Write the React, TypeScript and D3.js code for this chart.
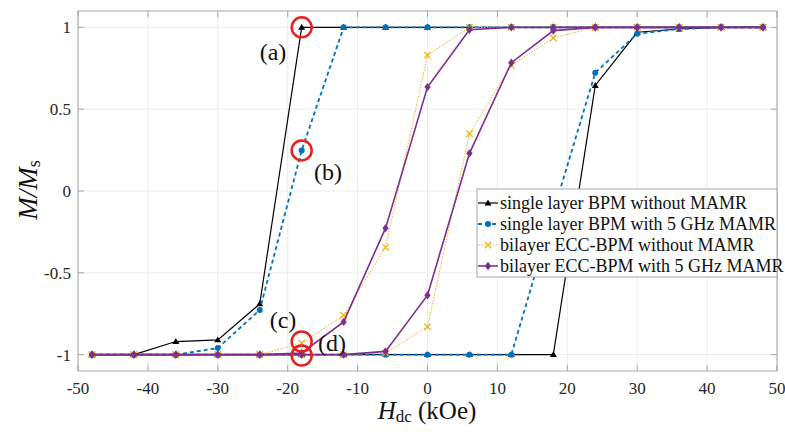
import React from "react";
import * as d3 from "d3";

const H = [-48, -42, -36, -30, -24, -18, -12, -6, 0, 6, 12, 18, 24, 30, 36, 42, 48];
const blackUp = [-1, -1, -0.92, -0.91, -0.69, 1, 1, 1, 1, 1, 1, 1, 1, 1, 1, 1, 1];
const blackDown = [-1, -1, -1, -1, -1, -1, -1, -1, -1, -1, -1, -1, 0.645, 0.97, 0.99, 1, 1];
const blueUp = [-1, -1, -1, -0.96, -0.727, 0.248, 1, 1, 1, 1, 1, 1, 1, 1, 1, 1, 1];
const blueDown = [-1, -1, -1, -1, -1, -1, -1, -1, -1, -1, -1, -0.13, 0.723, 0.961, 0.99, 1, 1];
const orangeUp = [-1, -1, -1, -1, -1, -0.93, -0.76, -0.344, 0.83, 1, 1, 1, 1, 1, 1, 1, 1];
const orangeDown = [-1, -1, -1, -1, -1, -1, -1, -0.99, -0.83, 0.35, 0.768, 0.935, 1, 1, 1, 1, 1];
const purpleUp = [-1, -1, -1, -1, -1, -0.99, -0.8, -0.227, 0.635, 0.985, 1, 1, 1, 1, 1, 1, 1];
const purpleDown = [-1, -1, -1, -1, -1, -1, -1, -0.98, -0.637, 0.23, 0.784, 0.98, 1, 1, 1, 1, 1];

const xTicks = [-50, -40, -30, -20, -10, 0, 10, 20, 30, 40, 50];
const yTicks = [-1, -0.5, 0, 0.5, 1];
const legendLabels = [
  "single layer BPM without MAMR",
  "single layer BPM with 5 GHz MAMR",
  "bilayer ECC-BPM without MAMR",
  "bilayer ECC-BPM with 5 GHz MAMR",
];
const annotations = [
  { label: "(a)", h: -18, m: 1, tx: 273, ty: 52 },
  { label: "(b)", h: -18, m: 0.248, tx: 328, ty: 172 },
  { label: "(c)", h: -18, m: -0.92, tx: 283, ty: 320 },
  { label: "(d)", h: -18, m: -1.005, tx: 332, ty: 343 },
];

const series = [
  { up: blackUp, down: blackDown, color: "#000000", width: 1.2, dash: "none", marker: "tri" },
  { up: blueUp, down: blueDown, color: "#0072BD", width: 1.8, dash: "4,3", marker: "circle" },
  { up: orangeUp, down: orangeDown, color: "#EDB120", width: 1, dash: "1.5,1.5", marker: "x" },
  { up: purpleUp, down: purpleDown, color: "#7E2F8E", width: 1.6, dash: "none", marker: "diamond" },
];

const FONT = "Liberation Serif, Times New Roman, serif";

function Marker({ type, x, y, color }: { type: string; x: number; y: number; color: string }) {
  if (type === "tri") {
    const s = 3.5;
    return <path d={`M${x},${y - s} L${x + s},${y + s * 0.7} L${x - s},${y + s * 0.7} Z`} fill={color} />;
  }
  if (type === "circle") return <circle cx={x} cy={y} r={3} fill={color} />;
  if (type === "x") {
    const s = 3.2;
    return (
      <path
        d={`M${x - s},${y - s} L${x + s},${y + s} M${x - s},${y + s} L${x + s},${y - s}`}
        stroke={color}
        strokeWidth={1.3}
        fill="none"
      />
    );
  }
  const s = 4.2;
  return <path d={`M${x},${y - s} L${x + s * 0.75},${y} L${x},${y + s} L${x - s * 0.75},${y} Z`} fill={color} />;
}

export default function App() {
  const W = 785;
  const Ht = 435;
  const x0 = 78, x1 = 777, y0 = 11, y1 = 371;
  const x = d3.scaleLinear().domain([-50, 50]).range([x0, x1]);
  const y = d3.scaleLinear().domain([-1.1, 1.1]).range([y1, y0]);
  const line = d3
    .line<number>()
    .x((_, i) => x(H[i]))
    .y((d) => y(d));

  const axisColor = "#a6a6a6";
  const gridColor = "#ececec";
  const ts = { fontFamily: FONT };

  return (
    <svg width={W} height={Ht} style={{ position: "absolute", left: 0, top: 0, background: "#fff", fontFamily: FONT }}>
      <rect x={0} y={0} width={W} height={Ht} fill="#fff" />
      {xTicks.map((t) => (
        <line key={"gx" + t} x1={x(t)} x2={x(t)} y1={y0} y2={y1} stroke={gridColor} strokeWidth={1} />
      ))}
      {yTicks.map((t) => (
        <line key={"gy" + t} x1={x0} x2={x1} y1={y(t)} y2={y(t)} stroke={gridColor} strokeWidth={1} />
      ))}
      {xTicks.map((t) => (
        <g key={"tx" + t}>
          <line x1={x(t)} x2={x(t)} y1={y1} y2={y1 - 6} stroke={axisColor} />
          <line x1={x(t)} x2={x(t)} y1={y0} y2={y0 + 6} stroke={axisColor} />
          <text x={x(t)} y={394} fontSize={17} textAnchor="middle" fill="#262626" style={ts}>
            {t}
          </text>
        </g>
      ))}
      {yTicks.map((t) => (
        <g key={"ty" + t}>
          <line x1={x0} x2={x0 + 6} y1={y(t)} y2={y(t)} stroke={axisColor} />
          <line x1={x1} x2={x1 - 6} y1={y(t)} y2={y(t)} stroke={axisColor} />
          <text x={71} y={y(t)} dy="0.35em" fontSize={17} textAnchor="end" fill="#262626" style={ts}>
            {t}
          </text>
        </g>
      ))}
      {series.map((s, si) => (
        <g key={"s" + si}>
          {[s.up, s.down].map((arr, bi) => (
            <g key={bi}>
              <path
                d={line(arr) || ""}
                fill="none"
                stroke={s.color}
                strokeWidth={s.width}
                strokeDasharray={s.dash}
              />
              {arr.map((v, i) => (
                <Marker key={i} type={s.marker} x={x(H[i])} y={y(v)} color={s.color} />
              ))}
            </g>
          ))}
        </g>
      ))}
      <rect x={x0} y={y0} width={x1 - x0} height={y1 - y0} fill="none" stroke={axisColor} strokeWidth={1} />
      {annotations.map((a) => (
        <g key={a.label}>
          <circle cx={x(a.h)} cy={y(a.m)} r={10} fill="none" stroke="#e8201f" strokeWidth={2.5} />
          <text x={a.tx} y={a.ty} dy="0.35em" fontSize={24} textAnchor="middle" fill="#111" style={ts}>
            {a.label}
          </text>
        </g>
      ))}
      <g>
        <rect x={477} y={189} width={300} height={88} fill="#fff" stroke={axisColor} strokeWidth={1} />
        {legendLabels.map((lab, i) => {
          const s = series[i];
          const ly = 203 + i * 21;
          return (
            <g key={lab}>
              <line x1={478} x2={498} y1={ly} y2={ly} stroke={s.color} strokeWidth={s.width} strokeDasharray={s.dash} />
              <Marker type={s.marker} x={488} y={ly} color={s.color} />
              <text x={500} y={ly} dy="0.33em" fontSize={18} fill="#111" style={ts}>
                {lab}
              </text>
            </g>
          );
        })}
      </g>
      <text x={427} y={419} fontSize={25} textAnchor="middle" fill="#111" style={ts}>
        <tspan fontStyle="italic">H</tspan>
        <tspan fontSize={17} dy={3}>dc</tspan>
        <tspan dy={-3}> (kOe)</tspan>
      </text>
      <text transform="translate(37,190) rotate(-90)" fontSize={27} textAnchor="middle" fill="#111" fontStyle="italic" style={ts}>
        <tspan>M</tspan>
        <tspan>/</tspan>
        <tspan>M</tspan>
        <tspan fontSize={18} dy={3} fontStyle="normal">s</tspan>
      </text>
    </svg>
  );
}
